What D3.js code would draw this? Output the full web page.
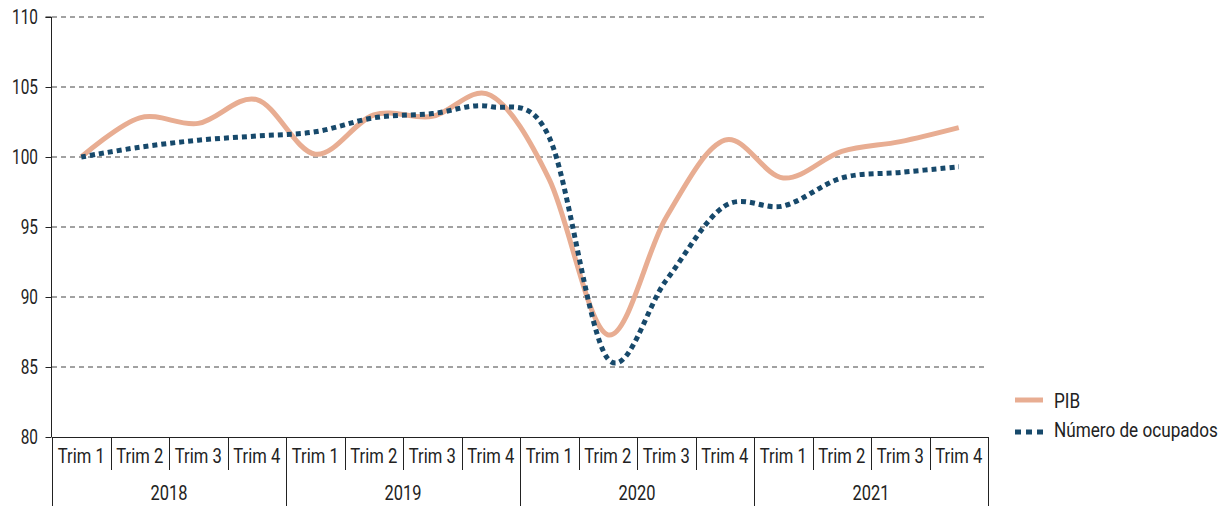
<!DOCTYPE html>
<html><head><meta charset="utf-8">
<script src="https://cdn.jsdelivr.net/npm/d3@7/dist/d3.min.js"></script>
<style>
body{margin:0;background:#fff;}
svg text{font-family:Roboto,"Liberation Sans",sans-serif;fill:#222;}
</style></head>
<body><svg id="c" width="1226" height="506"></svg>
<script>
const years = ["2018","2019","2020","2021"];
const quarters = ["Trim 1","Trim 2","Trim 3","Trim 4"];
const pib = [100,102.8,102.4,104.1,100.2,103.0,102.9,104.4,98.4,87.3,95.7,101.2,98.5,100.4,101.1,102.1];
const ocupados = [100,100.7,101.2,101.5,101.8,102.8,103.1,103.6,101.4,85.6,91.2,96.5,96.5,98.5,98.9,99.3];
const yTicks = [80,85,90,95,100,105,110];
const seriesNames = ["PIB","Número de ocupados"];

const svg = d3.select("#c");
const cats = [];
years.forEach(y=>quarters.forEach(q=>cats.push(y+"|"+q)));

const x = d3.scaleBand().domain(cats).range([52,988]).padding(0);
const y = d3.scaleLinear().domain([80,110]).range([437,17]);

function scaleFor(sample, size, target){
  const t = svg.append("text").attr("font-size",size).text(sample);
  const w = t.node().getComputedTextLength();
  t.remove();
  return target / w;
}
function label(parent, tx, ty, txt, size, sx, anchor){
  const g = parent.append("g").attr("transform",`translate(${tx},${ty}) scale(${sx},1)`);
  g.append("text").attr("font-size",size).attr("text-anchor",anchor||"start").text(txt);
  return g;
}
const sY = scaleFor("110", 20, 26);
const sQ = scaleFor("Trim 1", 21, 47);
const sYr = scaleFor("2018", 20, 37);
const sL = scaleFor("Número de ocupados", 21, 164);

// grid
svg.append("g").selectAll("line").data(yTicks.filter(t=>t>80)).join("line")
  .attr("x1",52).attr("x2",988).attr("y1",d=>y(d)).attr("y2",d=>y(d))
  .attr("stroke","#444").attr("stroke-width",1).attr("stroke-dasharray","5,4");

// y axis
const ya = svg.append("g").attr("transform","translate(51.5,0)")
  .call(d3.axisLeft(y).tickValues(yTicks).tickSize(6).tickFormat(""));
ya.select(".domain").attr("stroke","#222").attr("d","M0,"+y(80)+"V"+y(110)+"H-6");
ya.selectAll(".tick line").attr("stroke","#222");
yTicks.forEach(t=>label(svg, 38, y(t)+7, d3.format("d")(t), 20, sY, "end"));

// x axis baseline
svg.append("line").attr("x1",52).attr("x2",988.5).attr("y1",437.5).attr("y2",437.5).attr("stroke","#222").attr("stroke-width",1.2);

// quarter separators
const gx = svg.append("g");
cats.forEach((c,i)=>{
  const xl = Math.round(x(c))+0.5;
  const isYear = i%4===0;
  gx.append("line").attr("x1",xl).attr("x2",xl).attr("y1",437).attr("y2",isYear?506:470)
    .attr("stroke","#222").attr("stroke-width",1);
  label(gx, x(c)+x.bandwidth()/2, 463, c.split("|")[1], 21, sQ, "middle");
});
const xr = Math.round(x.range()[1])+0.5;
gx.append("line").attr("x1",xr).attr("x2",xr).attr("y1",437).attr("y2",506).attr("stroke","#222");
years.forEach((yr,i)=>{
  const x0 = x(yr+"|Trim 1"), x1 = x(yr+"|Trim 4")+x.bandwidth();
  label(gx, (x0+x1)/2, 500, yr, 20, sYr, "middle");
});

const line = d3.line().x((d,i)=>x(cats[i])+x.bandwidth()/2).y(d=>y(d)).curve(d3.curveCardinal.tension(0));

svg.append("path").datum(pib).attr("d",line).attr("fill","none")
  .attr("stroke","#E8AD92").attr("stroke-width",5);
svg.append("path").datum(ocupados).attr("d",line).attr("fill","none")
  .attr("stroke","#17496B").attr("stroke-width",5).attr("stroke-dasharray","5,4");

// legend
const lg = svg.append("g");
lg.append("line").attr("x1",1015).attr("x2",1043).attr("y1",400).attr("y2",400).attr("stroke","#E8AD92").attr("stroke-width",5);
label(lg, 1054, 408, seriesNames[0], 21, sL, "start");
lg.append("line").attr("x1",1015).attr("x2",1043).attr("y1",432).attr("y2",432).attr("stroke","#17496B").attr("stroke-width",5).attr("stroke-dasharray","6,5");
label(lg, 1054, 437, seriesNames[1], 21, sL, "start");
</script></body></html>
